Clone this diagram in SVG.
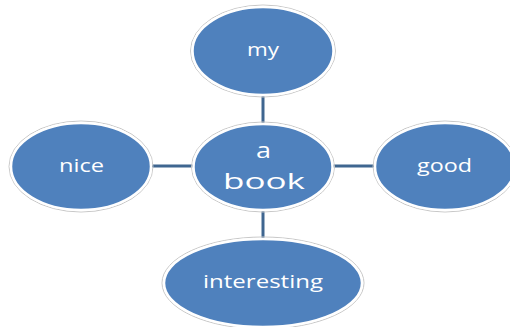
<svg xmlns="http://www.w3.org/2000/svg" width="510" height="327" viewBox="0 0 510 327">
<style>
.node{fill:#4f81bd;stroke:#ffffff;stroke-width:2.5}
.halo{fill:none;stroke:#c8c8c8;stroke-width:1}
.lbl{font-family:"Open Sans","Noto Sans",sans-serif;fill:#ffffff;text-anchor:start}
.sm{font-size:19px}
.lg{font-size:22px}
.conn{stroke:#3f6690;stroke-width:3;fill:none}
</style>
<rect width="510" height="327" fill="#ffffff"/>
<g id="connectors">
<line class="conn" x1="263" y1="96" x2="263" y2="123"/>
<line class="conn" x1="263" y1="211" x2="263" y2="238"/>
<line class="conn" x1="152" y1="166" x2="193" y2="166"/>
<line class="conn" x1="333" y1="166" x2="374" y2="166"/>
</g>
<g id="my">
<ellipse class="halo" cx="263" cy="51" rx="72.5" ry="46"/>
<ellipse class="node" cx="263" cy="51" rx="70.5" ry="44"/>
<text class="lbl sm" x="247" y="56" textLength="32" lengthAdjust="spacingAndGlyphs">my</text>
</g>
<g id="nice">
<ellipse class="halo" cx="81" cy="166.5" rx="72" ry="45.5"/>
<ellipse class="node" cx="81" cy="166.5" rx="70" ry="43.5"/>
<text class="lbl sm" x="59" y="172" textLength="45" lengthAdjust="spacingAndGlyphs">nice</text>
</g>
<g id="good">
<ellipse class="halo" cx="445" cy="166.5" rx="72" ry="45.5"/>
<ellipse class="node" cx="445" cy="166.5" rx="70" ry="43.5"/>
<text class="lbl sm" x="417" y="172" textLength="55" lengthAdjust="spacingAndGlyphs">good</text>
</g>
<g id="a-book">
<ellipse class="halo" cx="263" cy="167" rx="71.5" ry="45"/>
<ellipse class="node" cx="263" cy="167" rx="69.5" ry="43"/>
<text class="lbl lg" x="256" y="158" textLength="15" lengthAdjust="spacingAndGlyphs">a</text>
<text class="lbl lg" x="223" y="189" textLength="82" lengthAdjust="spacingAndGlyphs">book</text>
</g>
<g id="interesting">
<ellipse class="halo" cx="263" cy="283" rx="101" ry="46"/>
<ellipse class="node" cx="263" cy="283" rx="99" ry="44"/>
<text class="lbl sm" x="203" y="288" textLength="120" lengthAdjust="spacingAndGlyphs">interesting</text>
</g>
</svg>
